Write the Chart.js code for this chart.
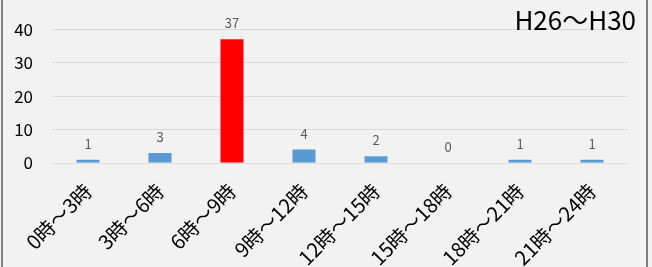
<!DOCTYPE html>
<html>
<head>
<meta charset="utf-8">
<script src="https://cdn.jsdelivr.net/npm/chart.js@4"></script>
<style>
  html, body { margin: 0; padding: 0; background: #f2f2f2; }
  #wrap { position: relative; width: 652px; height: 267px; }
</style>
</head>
<body>
<div id="wrap"><canvas id="chart" width="652" height="267"></canvas></div>
<script>
// Time-of-day buckets and counts (H26〜H30)
const categories = ['0時〜3時', '3時〜6時', '6時〜9時', '9時〜12時', '12時〜15時', '15時〜18時', '18時〜21時', '21時〜24時'];
const counts = [1, 3, 37, 4, 2, 0, 1, 1];
const yTicks = [0, 10, 20, 30, 40];
const periodLabel = 'H26〜H30';

const FONT = '"Noto Sans CJK JP", "Noto Sans", sans-serif';
const barColors = counts.map((v, i) => i === 2 ? '#ff0000' : '#5b9bd5');

// value labels above bars + period text + frame
const overlay = {
  id: 'overlay',
  afterDatasetsDraw(chart) {
    const ctx = chart.ctx;
    const meta = chart.getDatasetMeta(0);
    ctx.save();
    ctx.font = '13px ' + FONT;
    ctx.fillStyle = '#595959';
    ctx.textAlign = 'center';
    ctx.textBaseline = 'alphabetic';
    meta.data.forEach((bar, i) => {
      ctx.fillText(String(counts[i]), bar.x, bar.y - 11);
    });
    ctx.font = '26px ' + FONT;
    ctx.fillStyle = '#000';
    ctx.textAlign = 'right';
    ctx.fillText(periodLabel, 636, 30);
    // frame sides
    ctx.fillStyle = '#7f7f7f';
    ctx.fillRect(1, 0, 2, chart.height);
    ctx.fillRect(646, 0, 2, chart.height);
    ctx.restore();
  }
};

new Chart(document.getElementById('chart').getContext('2d'), {
  type: 'bar',
  data: {
    labels: categories,
    datasets: [{
      data: counts,
      backgroundColor: barColors,
      borderWidth: 0,
      barPercentage: 0.32,
      categoryPercentage: 1
    }]
  },
  options: {
    responsive: false,
    animation: false,
    layout: { padding: { top: 27, right: 24, left: 0, bottom: 0 } },
    plugins: { legend: { display: false }, tooltip: { enabled: false } },
    scales: {
      x: {
        grid: { display: false },
        border: { display: false },
        ticks: {
          color: '#000',
          font: { family: FONT, size: 20 },
          maxRotation: 45,
          minRotation: 45,
          padding: 8
        },
        afterFit: (s) => { s.height = 104; }
      },
      y: {
        min: 0,
        max: 40,
        afterBuildTicks: (s) => { s.ticks = yTicks.map(v => ({ value: v })); },
        grid: { color: '#d9d9d9', drawTicks: false },
        border: { display: false },
        ticks: {
          color: '#000',
          font: { family: FONT, size: 17 },
          padding: 19
        },
        afterFit: (s) => { s.width = 52; }
      }
    }
  },
  plugins: [overlay]
});
</script>
</body>
</html>
